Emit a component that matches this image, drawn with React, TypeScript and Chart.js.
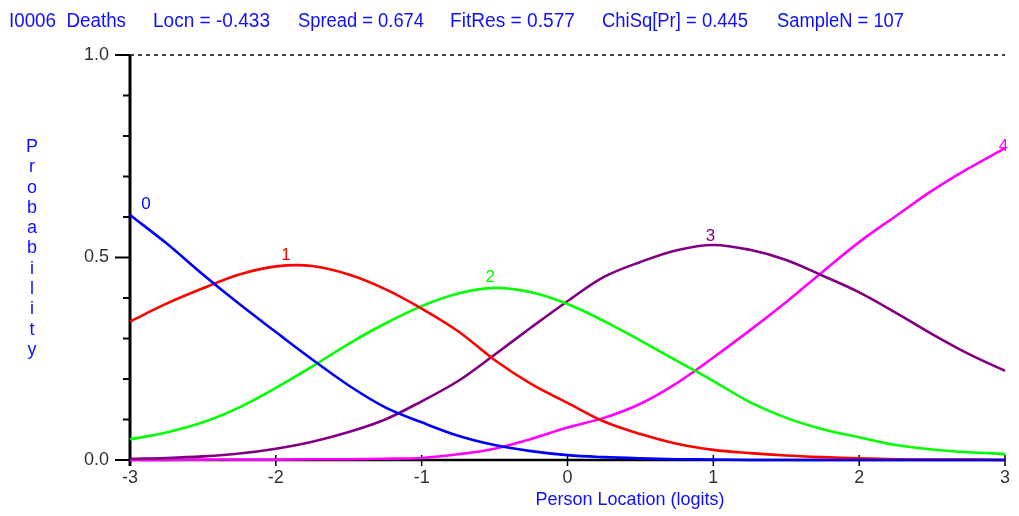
import React, { useEffect, useRef } from "react";
import { Chart, registerables } from "chart.js";

Chart.register(...registerables);

const logits = [-3, -2.75, -2.5, -2.25, -2, -1.75, -1.5, -1.25, -1, -0.75, -0.5, -0.25, 0, 0.25, 0.5, 0.75, 1, 1.25, 1.5, 1.75, 2, 2.25, 2.5, 2.75, 3];

const cat0 = [0.605, 0.535, 0.458, 0.385, 0.316, 0.248, 0.184, 0.13, 0.093, 0.06, 0.037, 0.022, 0.012, 0.007, 0.004, 0.002, 0.001, 0, 0, 0, 0, 0, 0, 0, 0];
const cat1 = [0.342, 0.386, 0.424, 0.458, 0.478, 0.479, 0.458, 0.422, 0.374, 0.318, 0.247, 0.188, 0.141, 0.095, 0.064, 0.04, 0.025, 0.017, 0.011, 0.007, 0.004, 0.002, 0.001, 0.001, 0];
const cat2 = [0.051, 0.068, 0.093, 0.13, 0.178, 0.231, 0.287, 0.337, 0.38, 0.411, 0.425, 0.414, 0.385, 0.343, 0.295, 0.245, 0.195, 0.143, 0.104, 0.076, 0.056, 0.037, 0.026, 0.019, 0.015];
const cat3 = [0.003, 0.005, 0.009, 0.016, 0.028, 0.045, 0.069, 0.1, 0.145, 0.195, 0.26, 0.327, 0.392, 0.452, 0.489, 0.518, 0.531, 0.519, 0.494, 0.455, 0.414, 0.364, 0.311, 0.262, 0.22];
const cat4 = [0, 0, 0.001, 0.001, 0.001, 0.002, 0.002, 0.003, 0.005, 0.014, 0.028, 0.052, 0.08, 0.104, 0.139, 0.19, 0.253, 0.32, 0.39, 0.465, 0.538, 0.602, 0.665, 0.72, 0.77];

const categoryNames = ["0", "1", "2", "3", "4"];
const categoryColors = ["#0000ff", "#ff0000", "#00ff00", "#800080", "#ff00ff"];
// label anchor positions in data units (logit, probability)
const labelX = [-2.89, -1.93, -0.53, 0.98, 2.99];
const labelY = [0.632, 0.506, 0.452, 0.553, 0.775];

const titleParts = ["I0006  Deaths", "Locn = -0.433", "Spread = 0.674", "FitRes = 0.577", "ChiSq[Pr] = 0.445", "SampleN = 107"];
const titleLeft = [9, 153, 298, 450, 602, 777];
const titleWidth = [117, 117, 126, 125, 146, 127];

const xTicks = [-3, -2, -1, 0, 1, 2, 3];
const yMinorTicks = [0, 0.1, 0.2, 0.3, 0.4, 0.5, 0.6, 0.7, 0.8, 0.9, 1.0];
const yMajorTicks = [0, 0.5, 1.0];
const yAxisTitle = "Probability";
const xAxisTitle = "Person Location (logits)";

const series = [cat0, cat1, cat2, cat3, cat4];

const decorPlugin = {
  id: "decor",
  beforeDatasetsDraw(chart: any) {
    const ctx = chart.ctx;
    const xs = chart.scales.x;
    const ys = chart.scales.y;
    const left = xs.getPixelForValue(-3);
    const right = xs.getPixelForValue(3);
    const top = ys.getPixelForValue(1);
    const bottom = ys.getPixelForValue(0);
    ctx.save();
    ctx.strokeStyle = "#000";
    ctx.lineWidth = 1.5;
    ctx.setLineDash([4, 4]);
    ctx.beginPath();
    ctx.moveTo(left, top);
    ctx.lineTo(right, top);
    ctx.stroke();
    ctx.setLineDash([]);
    ctx.lineWidth = 2.5;
    ctx.beginPath();
    ctx.moveTo(left, bottom);
    ctx.lineTo(right, bottom);
    ctx.stroke();
    ctx.lineWidth = 3;
    ctx.beginPath();
    ctx.moveTo(left, top);
    ctx.lineTo(left, bottom + 6);
    ctx.stroke();
    ctx.lineWidth = 2;
    yMinorTicks.forEach((v) => {
      const y = ys.getPixelForValue(v);
      const major = yMajorTicks.some((m) => Math.abs(m - v) < 1e-9);
      ctx.beginPath();
      ctx.moveTo(left - (major ? 15 : 7), y);
      ctx.lineTo(left, y);
      ctx.stroke();
    });
    ctx.lineWidth = 1.5;
    xTicks.forEach((v) => {
      const x = xs.getPixelForValue(v);
      ctx.beginPath();
      ctx.moveTo(x, bottom - 5);
      ctx.lineTo(x, bottom + 6);
      ctx.stroke();
    });
    ctx.restore();
  },
  afterDatasetsDraw(chart: any) {
    const ctx = chart.ctx;
    const xs = chart.scales.x;
    const ys = chart.scales.y;
    const left = xs.getPixelForValue(-3);
    const bottom = ys.getPixelForValue(0);
    ctx.save();
    ctx.fillStyle = "#333";
    ctx.font = '18px "Liberation Sans", Arial, sans-serif';
    ctx.textBaseline = "middle";
    ctx.textAlign = "right";
    yMajorTicks.forEach((v) => {
      ctx.fillText(v.toFixed(1), left - 21, ys.getPixelForValue(v));
    });
    ctx.textAlign = "center";
    xTicks.forEach((v) => {
      ctx.fillText(String(v), xs.getPixelForValue(v), bottom + 18);
    });
    ctx.fillStyle = "#1010ff";
    ctx.textAlign = "left";
    ctx.font = '20px "Liberation Sans", Arial, sans-serif';
    titleParts.forEach((t, i) => {
      ctx.fillText(t, titleLeft[i], 21, titleWidth[i]);
    });
    ctx.font = '18px "Liberation Sans", Arial, sans-serif';
    ctx.textAlign = "center";
    ctx.fillText(xAxisTitle, 630, 500, 195);
    yAxisTitle.split("").forEach((ch, i) => {
      ctx.fillText(ch, 32, 147 + i * 20.3);
    });
    ctx.font = '17px "Liberation Sans", Arial, sans-serif';
    categoryNames.forEach((n, i) => {
      ctx.fillStyle = categoryColors[i];
      ctx.fillText(n, xs.getPixelForValue(labelX[i]), ys.getPixelForValue(labelY[i]));
    });
    ctx.restore();
  },
};

export default function App() {
  const ref = useRef<HTMLCanvasElement>(null);
  useEffect(() => {
    if (!ref.current) return;
    const chart = new Chart(ref.current, {
      type: "line",
      data: {
        datasets: series.map((s, i) => ({
          label: categoryNames[i],
          data: logits.map((x, j) => ({ x, y: s[j] })),
          borderColor: categoryColors[i],
          backgroundColor: categoryColors[i],
          borderWidth: 2.6,
          pointRadius: 0,
          tension: 0.35,
          clip: false as any,
        })),
      },
      options: {
        animation: false,
        responsive: false,
        devicePixelRatio: 1,
        layout: { padding: { left: 130, right: 14, top: 55, bottom: 56 } },
        scales: {
          x: { type: "linear", min: -3, max: 3, display: false },
          y: { type: "linear", min: 0, max: 1, display: false },
        },
        plugins: { legend: { display: false }, tooltip: { enabled: false } },
      },
      plugins: [decorPlugin],
    });
    return () => chart.destroy();
  }, []);
  return (
    <div style={{ position: "fixed", left: 0, top: 0, width: 1019, height: 516, background: "#fff" }}>
      <canvas ref={ref} width={1019} height={516} style={{ width: 1019, height: 516 }} />
    </div>
  );
}
